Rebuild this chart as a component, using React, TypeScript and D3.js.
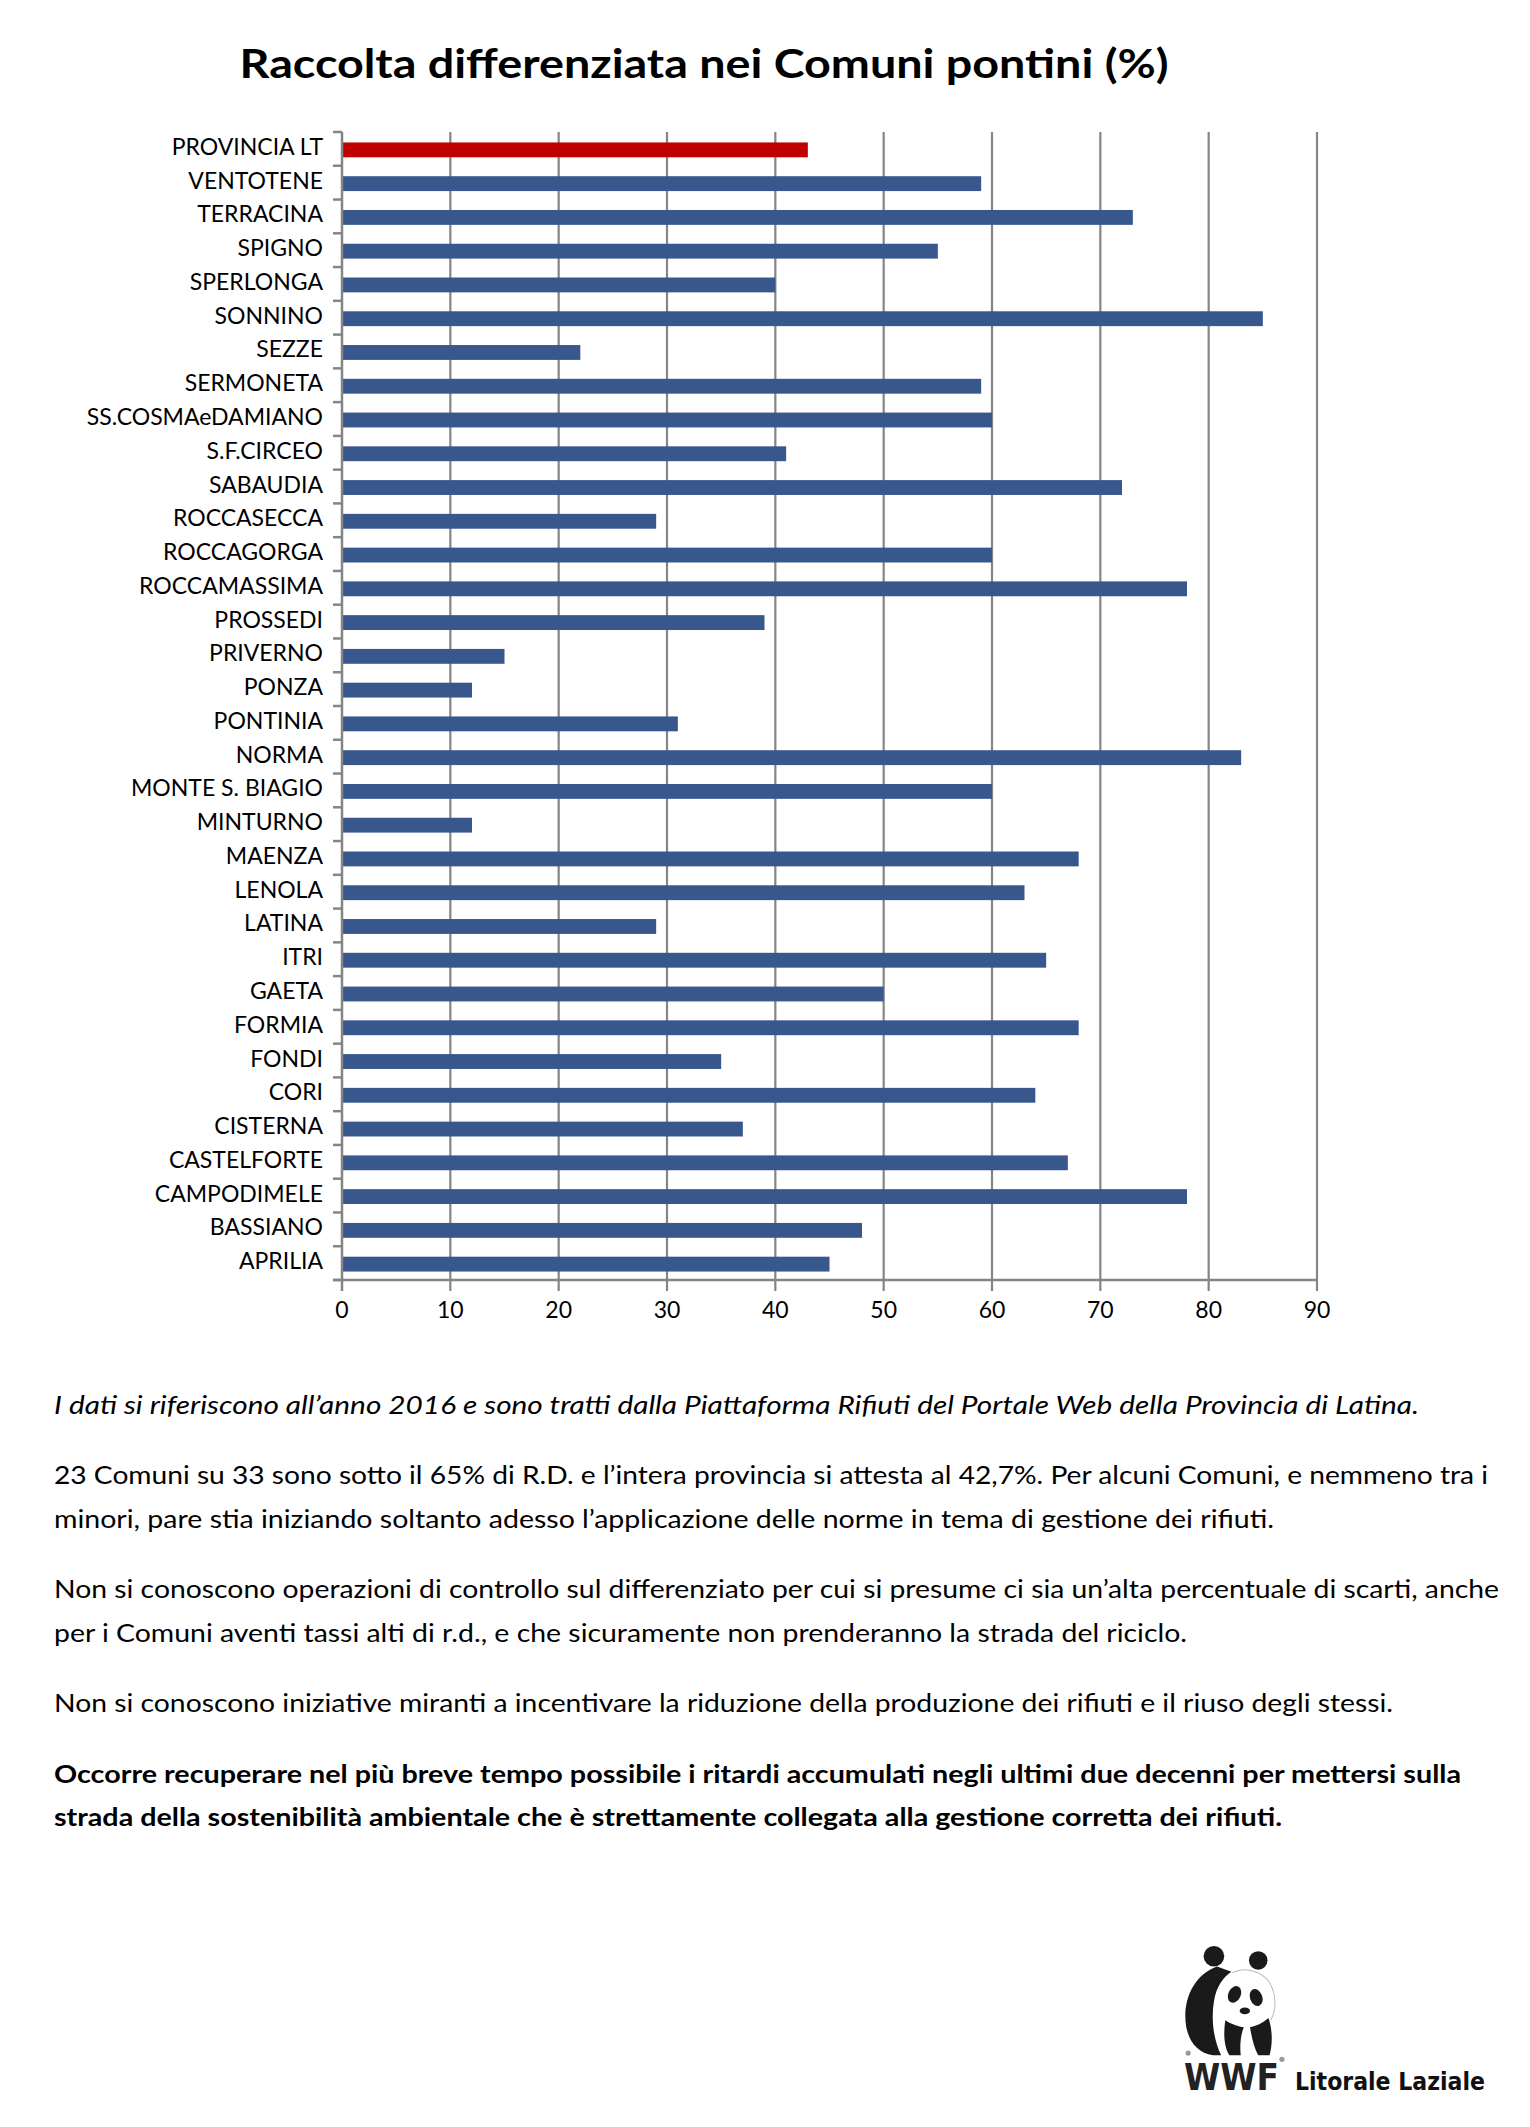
import * as d3 from "d3";

// dati: raccolta differenziata 2016 (%)
const comuni = [
  "PROVINCIA LT", "VENTOTENE", "TERRACINA", "SPIGNO", "SPERLONGA", "SONNINO",
  "SEZZE", "SERMONETA", "SS.COSMAeDAMIANO", "S.F.CIRCEO", "SABAUDIA",
  "ROCCASECCA", "ROCCAGORGA", "ROCCAMASSIMA", "PROSSEDI", "PRIVERNO", "PONZA",
  "PONTINIA", "NORMA", "MONTE S. BIAGIO", "MINTURNO", "MAENZA", "LENOLA",
  "LATINA", "ITRI", "GAETA", "FORMIA", "FONDI", "CORI", "CISTERNA",
  "CASTELFORTE", "CAMPODIMELE", "BASSIANO", "APRILIA",
];
const percentuali = [
  43, 59, 73, 55, 40, 85, 22, 59, 60, 41, 72, 29, 60, 78, 39, 15, 12, 31, 83,
  60, 12, 68, 63, 29, 65, 50, 68, 35, 64, 37, 67, 78, 48, 45,
];
const xTicks = [0, 10, 20, 30, 40, 50, 60, 70, 80, 90];

const titolo = "Raccolta differenziata nei Comuni pontini (%)";

const paragrafi = [
  { stile: "italic", righe: ["I dati si riferiscono all’anno 2016 e sono tratti dalla Piattaforma Rifiuti del Portale Web della Provincia di Latina."] },
  { stile: "normal", righe: [
    "23 Comuni su 33 sono sotto il 65% di R.D. e l’intera provincia si attesta al 42,7%. Per alcuni Comuni, e nemmeno tra i",
    "minori, pare stia iniziando soltanto adesso l’applicazione delle norme in tema di gestione dei rifiuti.",
  ] },
  { stile: "normal", righe: [
    "Non si conoscono operazioni di controllo sul differenziato per cui si presume ci sia un’alta percentuale di scarti, anche",
    "per i Comuni aventi tassi alti di r.d., e che sicuramente non prenderanno la strada del riciclo.",
  ] },
  { stile: "normal", righe: ["Non si conoscono iniziative miranti a incentivare la riduzione della produzione dei rifiuti e il riuso degli stessi."] },
  { stile: "bold", righe: [
    "Occorre recuperare nel più breve tempo possibile i ritardi accumulati negli ultimi due decenni per mettersi sulla",
    "strada della sostenibilità ambientale che è strettamente collegata alla gestione corretta dei rifiuti.",
  ] },
];

// layout
const W = 1530;
const H = 2127;
const plot = { left: 342, right: 1317, top: 132, bottom: 1280 };
const baselines = [[1414], [1484, 1528], [1598, 1642], [1712], [1783, 1826]];
const lineWidths = [[1365], [1434, 1220], [1445, 1133], [1339], [1407, 1228]];

const BLU = "#38578d";
const ROSSO = "#c00000";
const GRIGIO = "#858585";
const FONT = "Lato, 'Open Sans', sans-serif";

function Panda() {
  return (
    <g transform="translate(1182,1946) scale(1.03)" fill="#1a1a1a">
      <circle cx={31} cy={10} r={10} />
      <circle cx={74} cy={14} r={9} />
      <path d="M34,20 C12,28 0,52 4,78 C7,94 16,104 30,106 L38,106 C31,92 28,72 31,54 C33,40 40,30 48,25 Z" />
      <ellipse cx={51} cy={47} rx={6} ry={8.5} transform="rotate(25 51 47)" />
      <ellipse cx={72} cy={50} rx={6} ry={8.5} transform="rotate(-20 72 50)" />
      <ellipse cx={61} cy={63} rx={5} ry={3.2} />
      <path d="M42,72 C40,86 41,98 46,106 L57,106 C56,96 57,86 60,79 C55,78 48,76 42,72 Z" />
      <path d="M66,79 C68,90 70,99 74,106 L85,106 C88,95 88,82 84,70 C78,75 72,78 66,79 Z" />
      <path d="M49,26 C60,20 76,24 84,34 C92,46 92,62 86,72" fill="none" stroke="#bbb" strokeWidth={1} />
      <circle cx={6} cy={104} r={2.5} fill="#999" />
      <circle cx={97} cy={110} r={2.5} fill="#999" />
    </g>
  );
}

export default function App() {
  const x = d3.scaleLinear().domain([0, 90]).range([plot.left, plot.right]);
  const y = d3
    .scaleBand<string>()
    .domain(comuni)
    .range([plot.top, plot.bottom])
    .paddingInner(0.56)
    .paddingOuter(0.28);

  const step = y.step();
  const catTicks = d3.range(comuni.length + 1).map((i) => plot.top + i * step);

  return (
    <svg
      width={W}
      height={H}
      style={{ position: "absolute", left: 0, top: 0, display: "block", background: "#fff" }}
      fontFamily={FONT}
    >
      <text x={704} y={78} textAnchor="middle" fontSize={41} fontWeight="bold" textLength={929} lengthAdjust="spacingAndGlyphs">
        {titolo}
      </text>

      {/* griglia verticale */}
      {xTicks.slice(1).map((t) => (
        <line key={t} x1={x(t)} x2={x(t)} y1={plot.top} y2={plot.bottom + 11} stroke={GRIGIO} strokeWidth={2.2} />
      ))}

      {/* barre */}
      {comuni.map((c, i) => (
        <rect
          key={c}
          x={x(0)}
          y={y(c)! + 1}
          width={x(percentuali[i]) - x(0)}
          height={y.bandwidth()}
          fill={i === 0 ? ROSSO : BLU}
        />
      ))}

      {/* asse categorie */}
      <line x1={plot.left} x2={plot.left} y1={plot.top} y2={plot.bottom + 11} stroke={GRIGIO} strokeWidth={2.5} />
      {catTicks.map((t, i) => (
        <line key={i} x1={plot.left - 9} x2={plot.left} y1={t} y2={t} stroke={GRIGIO} strokeWidth={2.5} />
      ))}
      {comuni.map((c) => (
        <text key={c} x={323} y={y(c)! + y.bandwidth() / 2 + 6} textAnchor="end" fontSize={23} fill="#000">
          {c}
        </text>
      ))}

      {/* asse valori */}
      <line x1={plot.left - 9} x2={plot.right} y1={plot.bottom} y2={plot.bottom} stroke={GRIGIO} strokeWidth={2.5} />
      {xTicks.map((t) => (
        <text key={t} x={x(t)} y={1318} textAnchor="middle" fontSize={23} fill="#000">
          {t}
        </text>
      ))}

      {/* testo */}
      {paragrafi.map((p, pi) =>
        p.righe.map((r, ri) => (
          <text
            key={`${pi}-${ri}`}
            x={54}
            y={baselines[pi][ri]}
            fontSize={24.5}
            fontStyle={p.stile === "italic" ? "italic" : "normal"}
            fontWeight={p.stile === "bold" ? "bold" : "normal"}
            textLength={lineWidths[pi][ri]}
            lengthAdjust="spacingAndGlyphs"
            fill="#000"
          >
            {r}
          </text>
        ))
      )}

      <Panda />
      <text x={1184} y={2090} fontFamily="'DejaVu Sans', sans-serif" fontWeight="bold" fontSize={38} textLength={95} lengthAdjust="spacingAndGlyphs" fill="#222">
        WWF
      </text>
      <text x={1295} y={2090} fontFamily="'DejaVu Sans', sans-serif" fontWeight="bold" fontSize={24} textLength={190} lengthAdjust="spacingAndGlyphs" fill="#111">
        Litorale Laziale
      </text>
    </svg>
  );
}
